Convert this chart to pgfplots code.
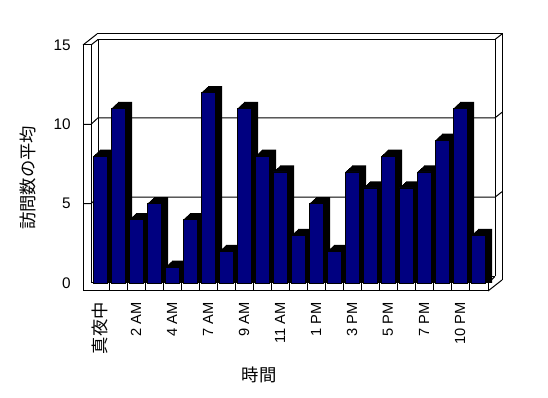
\documentclass[border=0pt]{standalone}
\usepackage{pgfplots}
\pgfplotsset{compat=1.18}
\usepackage{pgfplotstable}
\usepackage{fontspec}
\setmainfont{Liberation Sans}
\newfontfamily\jp{Noto Sans CJK JP}
\definecolor{navy}{RGB}{0,0,128}
\pgfplotstableread{
x v
0 8
1 11
2 4
3 5
4 1
5 4
6 12
7 2
8 11
9 8
10 7
11 3
12 5
13 2
14 7
15 6
16 8
17 6
18 7
19 9
20 11
21 3
}\visits
\begin{document}
\begin{tikzpicture}
\useasboundingbox (0,0) rectangle (411pt,298.5pt);
\begin{scope}[x=0.75pt,y=-0.75pt,yshift=298.5pt,line width=0.75pt]
% back wall
\draw (97,34) -- (502,34) -- (502,280);
\draw (98,276.5) -- (98,39.5) -- (495,39.5) -- (495,276.5);
\draw (495,39.5) -- (502,34);
% left wall
\draw (83,291) -- (83,45) -- (91,45) -- (91,283);
\draw (83,45) -- (97,34);
\draw (91,45) -- (98,39.5);
% grid lines
\foreach \v in {5,10} {
  \pgfmathsetmacro\fy{283-\v*15.8667}
  \pgfmathsetmacro\by{\fy-6.5}
  \pgfmathsetmacro\ry{\by-5.5}
  \draw (83,\fy) -- (91,\fy) -- (98,\by) -- (495,\by) -- (502,\ry);
}
% floor
\draw (98,276.5) -- (495,276.5);
\draw (83,291) -- (488,291) -- (488,283) -- (91,283);
\draw (488,291) -- (502,280);
\draw (488,283) -- (495,276.5);
\foreach \k in {1,...,21} \draw ({91+18*\k},283) -- ({91+18*\k},291);
% axis titles
\node[rotate=90,font=\jp\fontsize{13}{15}\selectfont] at (28,178) {訪問数の平均};
\node[font=\jp\fontsize{13}{15}\selectfont] at (259,375) {時間};
\end{scope}
\begin{axis}[
  at={(68.25pt,86.25pt)}, anchor=south west,
  scale only axis, width=297pt, height=178.5pt,
  xmin=-0.5, xmax=21.5, ymin=0, ymax=15,
  clip=false,
  axis line style={draw=none},
  major tick length=0pt,
  xtick={0,2,...,20},
  xticklabels={{\jp\fontsize{13}{15}\selectfont 真夜中},2 AM,4 AM,7 AM,9 AM,11 AM,1 PM,3 PM,5 PM,7 PM,10 PM},
  ytick={0,5,10,15},
  xticklabel style={rotate=90,anchor=east,inner sep=0pt,font=\fontsize{11}{13}\selectfont},
  xticklabel shift=14.25pt,
  yticklabel style={anchor=east,inner sep=0pt,font=\fontsize{11.5}{13}\selectfont},
  yticklabel shift=15pt,
  /pgf/number format/assume math mode=true,
]
\pgfplotsinvokeforeach{7,6,5,4,3,2,1}{
  \addplot[ybar,bar width=10.5pt,bar shift={#1*0.75pt},fill=black,draw=none]
    table[x=x,y expr=\thisrow{v}+#1*0.0585] {\visits};
}
\addplot[ybar,bar width=10.5pt,bar shift=0pt,fill=navy,draw=black,line width=0.4pt]
  table[x=x,y=v] {\visits};
\end{axis}
\end{tikzpicture}
\end{document}
